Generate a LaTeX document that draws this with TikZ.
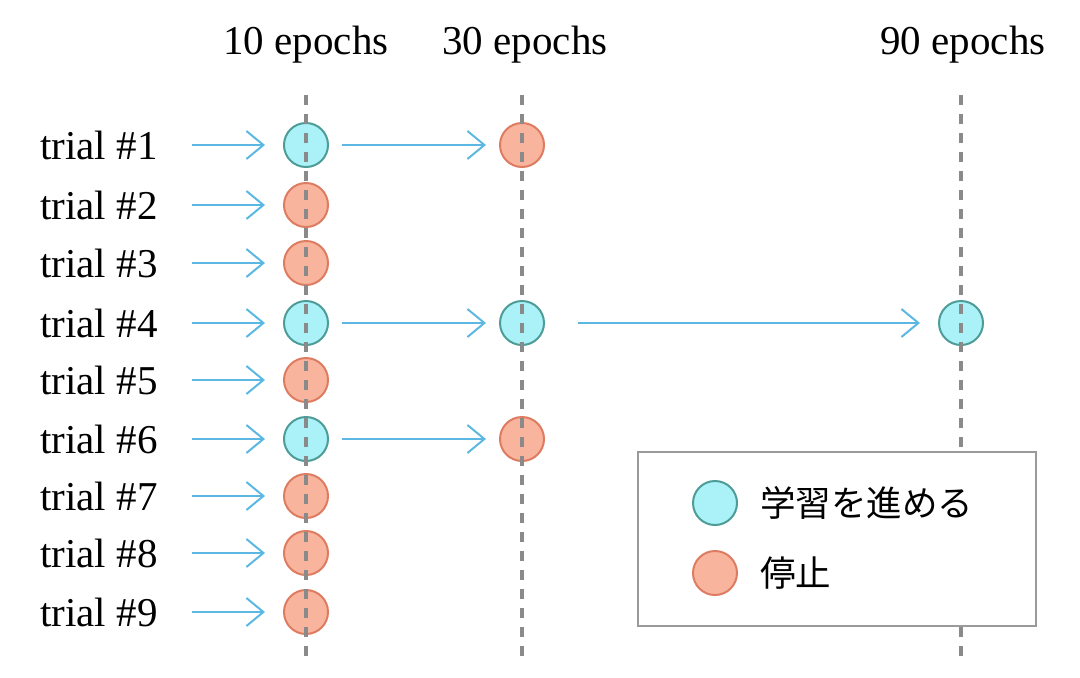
\documentclass[tikz,border=0pt]{standalone}
\usepackage{fontspec}
\setmainfont{Liberation Serif}
\newfontfamily\cjk{Noto Sans CJK JP}
\usetikzlibrary{arrows.meta}
\definecolor{gofill}{HTML}{AAF2F8}
\definecolor{godraw}{HTML}{4E9C98}
\definecolor{stopfill}{HTML}{F9B49E}
\definecolor{stopdraw}{HTML}{DE7C62}
\definecolor{arrowc}{HTML}{5CB8E2}
\definecolor{dashc}{HTML}{8A8A8A}
\definecolor{boxc}{HTML}{9A9A9A}
\tikzset{
  go/.style={circle,draw=godraw,fill=gofill,line width=2pt,minimum size=44pt,inner sep=0pt},
  stop/.style={circle,draw=stopdraw,fill=stopfill,line width=2pt,minimum size=44pt,inner sep=0pt},
  prog/.style={draw=arrowc,line width=2pt,-{Straight Barb[length=17pt,width=28pt,line width=2pt]},shorten <=13pt,shorten >=13pt},
  vline/.style={draw=dashc,line width=4pt,dash pattern=on 10pt off 9pt},
  lbl/.style={font=\fontsize{41}{44}\selectfont,inner sep=0pt},
  jlbl/.style={font=\cjk\fontsize{35.5}{40}\selectfont,inner sep=0pt,anchor=west},
}
\begin{document}
\begin{tikzpicture}[x=1pt,y=-1pt]
\useasboundingbox (0,0) rectangle (1080,678);
% column headers
\node[lbl] (h1) at (306,45) {10 epochs};
\node[lbl] (h2) at (525,45) {30 epochs};
\node[lbl] (h3) at (963,45) {90 epochs};
% trial labels and start coordinates
\foreach \i/\y in {1/145,2/205,3/263,4/323,5/380,6/439,7/496,8/553,9/612}{
  \node[lbl,anchor=west] (t\i) at (40,\y) {trial \#\i};
  \coordinate (s\i) at (192,\y);
}
% first column
\node[go]   (a1) at (306,145) {};
\node[stop] (a2) at (306,205) {};
\node[stop] (a3) at (306,263) {};
\node[go]   (a4) at (306,323) {};
\node[stop] (a5) at (306,380) {};
\node[go]   (a6) at (306,439) {};
\node[stop] (a7) at (306,496) {};
\node[stop] (a8) at (306,553) {};
\node[stop] (a9) at (306,612) {};
% second column
\node[stop] (b1) at (522,145) {};
\node[go]   (b4) at (522,323) {};
\node[stop] (b6) at (522,439) {};
% third column
\node[go]   (c4) at (961,323) {};
% arrows
\foreach \i in {1,...,9}{
  \draw[prog,shorten <=0pt,shorten >=18pt] (s\i) -- (a\i.west);
}
\draw[prog] (a1) -- (b1);
\draw[prog] (a4) -- (b4);
\draw[prog] (a6) -- (b6);
\draw[prog,shorten <=33pt,shorten >=18pt] (b4) -- (c4);
% dashed lines
\coordinate (v1t) at (306,95);  \coordinate (v1b) at (306,656);
\coordinate (v2t) at (522,95);  \coordinate (v2b) at (522,656);
\coordinate (v3t) at (961,95);  \coordinate (v3b) at (961,656);
\draw[vline] (v1t) -- (v1b);
\draw[vline] (v2t) -- (v2b);
\draw[vline] (v3t) -- (v3b);
% legend
\node[draw=boxc,fill=white,line width=2pt,minimum width=398pt,minimum height=174pt,inner sep=0pt] (leg) at (837,539) {};
\node[go]   (lg) at (715,503) {};
\node[stop] (ls) at (715,573) {};
\node[jlbl] (lgt) at (760,503) {学習を進める};
\node[jlbl] (lst) at (760,573) {停止};
\end{tikzpicture}
\end{document}
